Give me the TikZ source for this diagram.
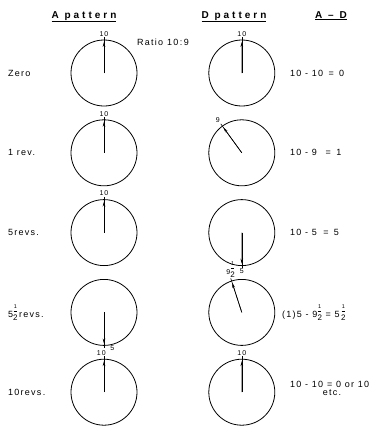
\documentclass[tikz,border=0pt]{standalone}
\usepackage{fontspec}
\setmainfont[LetterSpace=14]{Liberation Sans}
\newfontfamily\hdfont[LetterSpace=30]{Liberation Sans}
\usetikzlibrary{arrows.meta, positioning, calc}
\newcommand{\half}{\raisebox{-2.6pt}{\shortstack[c]{\fontsize{5.5}{5.5}\selectfont 1\\[-0.6pt]\rule{3.5pt}{0.3pt}\\[0.4pt]\fontsize{8}{8}\selectfont 2}}}

\begin{document}
\begin{tikzpicture}[
  x=1pt, y=-1pt,
  node distance=13pt and 71pt,
  dial/.style={draw, circle, minimum size=66pt, inner sep=0pt, line width=0.8pt},
  hand/.style={line width=0.6pt},
  tip/.style={-{Stealth[length=5pt,width=2.6pt]}, line width=0.6pt},
  num/.style={font=\fontsize{7}{7}\selectfont, inner sep=0.6pt},
  rowlbl/.style={font=\fontsize{9}{10}\selectfont, anchor=west, inner sep=0pt},
  head/.style={font=\hdfont\bfseries\fontsize{10}{11}\selectfont, inner sep=0pt, anchor=base},
]
\useasboundingbox (0,0) rectangle (389,426);

%% Headings
\node[head] (hA) at (84,18) {\underline{A pattern}};
\node[head] (hD) at (234,18) {\underline{D pattern}};
\node[head] (hAD) at (331,18) {\underline{A – D}};
\node[rowlbl] (ratio) at (137,42) {Ratio 10\,:\,9};

%% Dials
\node[dial] (a1) at (104,73) {};
\node[dial, below=of a1] (a2) {};
\node[dial, below=of a2] (a3) {};
\node[dial, below=of a3] (a4) {};
\node[dial, below=of a4] (a5) {};
\node[dial, right=of a1] (d1) {};
\node[dial, right=of a2] (d2) {};
\node[dial, right=of a3] (d3) {};
\node[dial, right=of a4] (d4) {};
\node[dial, right=of a5] (d5) {};

%% Pointers
\foreach \n/\a in {a1/90, d1/90, a2/90, d2/126, a3/90, d3/270,
                   a4/270, d4/108, a5/90, d5/90} {
  \draw[hand] (\n.center) -- ($(\n.center)!1.07!(\n.\a)$);
  \draw[tip] (\n.center) -- ($(\n.center)!0.93!(\n.\a)$);
}

%% Dial figures
\node[num, anchor=south] (na1) at ($(a1.center)!1.07!(a1.90)$) {10};
\node[num, anchor=south] (nd1) at ($(d1.center)!1.07!(d1.90)$) {10};
\node[num, anchor=south] (na2) at ($(a2.center)!1.07!(a2.90)$) {10};
\node[num, anchor=south east] (nd2) at ($(d2.center)!1.08!(d2.126)$) {9};
\node[num, anchor=south] (na3) at ($(a3.center)!1.07!(a3.90)$) {10};
\node[num, anchor=north] (nd3) at ($(d3.center)!1.06!(d3.270)$) {5};
\node[num, anchor=north west] (na4) at ($(a4.center)!0.98!(a4.280)$) {5};
\node[num, anchor=south] (nd4) at ($(d4.center)!1.08!(d4.108)$) {9\half};
\node[num, anchor=south east] (na5) at ($(a5.center)!1.07!(a5.86)$) {10};
\node[num, anchor=south] (nd5) at ($(d5.center)!1.07!(d5.90)$) {10};

%% Row names
\coordinate (lcol) at (8,0);
\node[rowlbl] (r1) at (lcol |- a1) {Zero};
\node[rowlbl] (r2) at (lcol |- a2) {1 rev.};
\node[rowlbl] (r3) at (lcol |- a3) {5revs.};
\node[rowlbl] (r4) at (lcol |- a4) {5\half\,revs.};
\node[rowlbl] (r5) at (lcol |- a5) {10revs.};

%% Differences
\coordinate (rcol) at (290,0);
\node[rowlbl] (e1) at (rcol |- d1) {10 - 10\, = \,0};
\node[rowlbl] (e2) at (rcol |- d2) {10 - 9 \;\;= \,1};
\node[rowlbl] (e3) at (rcol |- d3) {10 - 5 \;= \,5};
\node[rowlbl] (e4) at ($(rcol |- d4)+(-8,0)$) {(1)5 - 9\half\ = 5\,\half};
\node[rowlbl] (e5) at ($(rcol |- d5)+(0,-8)$) {10 - 10 = 0 or 10};
\node[rowlbl, below=2pt of e5.south east, anchor=north east, xshift=-28pt] (etc) {etc.};

\end{tikzpicture}
\end{document}
